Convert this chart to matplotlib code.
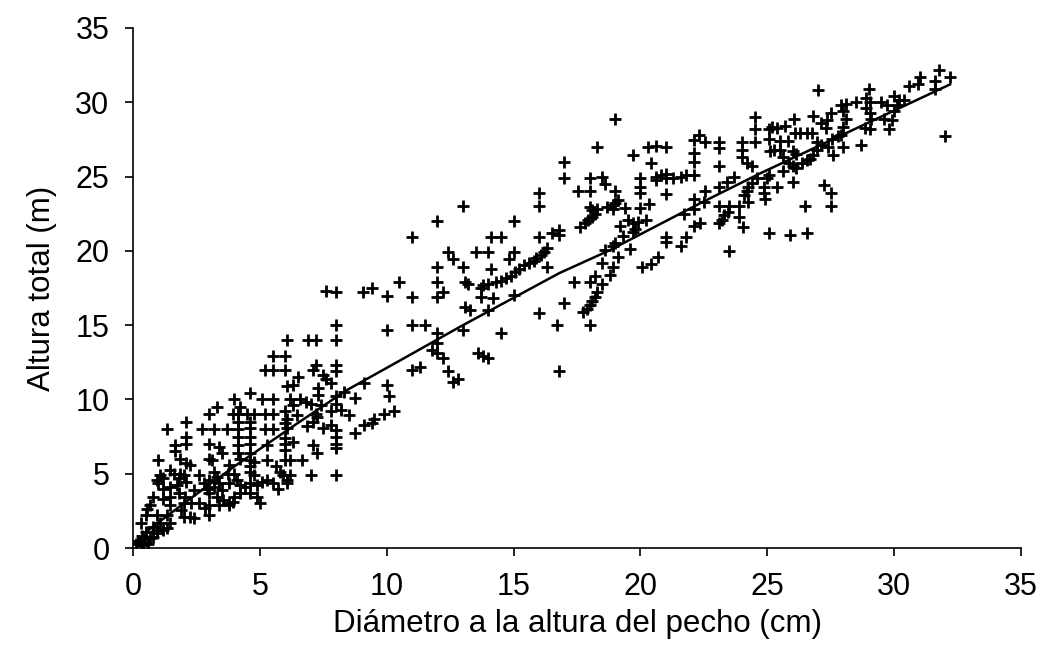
import matplotlib
matplotlib.use("Agg")
import matplotlib.pyplot as plt

plt.rcParams['font.family'] = ['Liberation Sans', 'DejaVu Sans']

# observaciones (dap en cm, altura en m), agrupadas por zona del gráfico
obs_origen = [
    (0.1, 0.3), (0.2, 0.5), (0.3, 0.4), (0.35, 0.8), (0.45, 0.6), (0.5, 1.1),
    (0.3, 1.7), (0.5, 2.2), (0.55, 2.6), (0.6, 0.3), (0.4, 0.2),
]

obs_0_9 = [
    (4.6, 10.4), (4.0, 10.0), (5.1, 10.0), (5.5, 10.0), (6.2, 10.0), (6.3, 9.6),
    (6.6, 10.0), (6.8, 9.85), (7.0, 9.7), (7.3, 10.3), (7.4, 9.6), (8.0, 10.2),
    (8.0, 9.7), (8.3, 10.5), (8.75, 10.1), (3.3, 9.5), (4.2, 9.5),
    (3.0, 9.0), (3.95, 9.0), (4.15, 9.0), (4.5, 9.0), (4.75, 9.0), (5.2, 9.0),
    (5.5, 9.0), (6.0, 9.2), (6.45, 8.95), (7.2, 9.05), (7.25, 8.85), (7.8, 9.2),
    (8.2, 9.3), (8.5, 8.95), (2.1, 8.45), (1.33, 8.0), (2.7, 8.0), (3.2, 8.0),
    (3.7, 8.0), (4.15, 8.0), (4.6, 8.05), (5.2, 8.0), (5.5, 8.0), (6.0, 8.4),
    (6.05, 8.05), (6.85, 8.2), (7.1, 8.5), (7.5, 8.05), (7.8, 8.3), (8.0, 7.95),
    (8.75, 7.75), (4.15, 8.5), (4.6, 8.5), (6.05, 8.7), (2.1, 7.5), (2.1, 7.0),
    (1.66, 6.9), (1.66, 6.5), (3.0, 7.0), (3.4, 6.8), (3.5, 6.4), (4.15, 7.5),
    (4.15, 6.9), (4.6, 7.5), (4.6, 7.0), (5.3, 6.9), (6.0, 7.4), (6.0, 7.0),
    (6.3, 7.15), (7.1, 6.9), (7.25, 6.4), (8.0, 7.5), (8.0, 7.0), (8.0, 6.7),
    (6.0, 6.6), (1.0, 5.9), (1.85, 6.0), (2.1, 5.7), (2.25, 5.6), (3.0, 6.0),
    (3.1, 5.9), (4.15, 6.4), (4.2, 6.0), (4.6, 6.4), (4.6, 5.9), (4.75, 5.8),
    (5.3, 5.9), (6.0, 5.9), (6.2, 5.9), (6.65, 5.9), (3.8, 5.6), (4.6, 5.5),
    (5.65, 5.5), (1.46, 5.25), (1.6, 5.0), (1.06, 4.9), (1.2, 4.7), (0.93, 4.6),
    (1.85, 5.0), (2.0, 4.9), (1.8, 4.7), (2.1, 4.45), (2.6, 4.9), (3.2, 5.1),
    (3.0, 4.6), (3.3, 4.8), (3.75, 5.0), (4.0, 5.0), (4.6, 5.1), (4.75, 4.9),
    (5.3, 4.6), (5.8, 5.1), (5.9, 4.9), (6.05, 4.6), (6.2, 4.9), (7.0, 4.9),
    (8.0, 4.9), (1.0, 4.35), (1.2, 4.0), (1.46, 4.1), (1.72, 4.25), (2.8, 4.35),
    (2.9, 4.0), (3.2, 4.1), (3.4, 4.35), (3.8, 4.35), (4.1, 4.6), (4.2, 4.25),
    (4.4, 4.1), (4.6, 4.35), (4.9, 4.25), (5.1, 4.45), (5.5, 4.35), (5.7, 4.0),
    (6.05, 4.35), (0.8, 3.46), (1.2, 3.3), (1.46, 3.46), (1.8, 3.7), (2.05, 3.46),
    (2.4, 3.9), (3.0, 3.7), (3.3, 3.46), (3.55, 3.2), (3.8, 3.0), (4.0, 3.46),
    (4.2, 3.7), (4.6, 3.7), (4.9, 3.46), (5.0, 3.0), (3.5, 3.9), (0.67, 2.9),
    (1.46, 2.9), (2.0, 3.0), (2.3, 3.0), (2.6, 3.0), (2.85, 2.7), (3.0, 2.9),
    (3.4, 2.9), (3.8, 2.9), (3.95, 3.1), (0.93, 2.2), (1.33, 2.2), (1.9, 2.55),
    (2.0, 2.1), (2.25, 2.1), (2.4, 2.0), (3.0, 2.2), (1.46, 1.66), (1.06, 1.66),
    (0.8, 1.44), (0.93, 1.2), (1.2, 1.2), (1.33, 1.33), (0.8, 0.76), (0.93, 1.0),
    (0.67, 0.65),
]

obs_5_10 = [
    (7.6, 17.3), (8.0, 17.2), (9.05, 17.2), (9.4, 17.5), (10.0, 16.95), (8.0, 15.0),
    (10.0, 14.7), (6.05, 14.0), (6.9, 14.0), (7.2, 14.0), (8.0, 14.0), (5.5, 12.9),
    (6.0, 12.9), (5.2, 12.0), (5.5, 12.0), (6.0, 12.0), (7.1, 12.0), (7.2, 12.3),
    (8.0, 12.3), (8.0, 11.9), (6.5, 11.5), (7.5, 11.65), (7.6, 11.4), (7.8, 11.1),
    (6.05, 10.9), (6.3, 11.0), (7.3, 10.75), (9.1, 11.1), (10.0, 11.0), (10.1, 10.2),
    (9.9, 9.05), (10.3, 9.2), (9.5, 8.7), (9.4, 8.4), (9.1, 8.3),
]

obs_10_17 = [
    (16.0, 23.9), (16.0, 23.0), (13.0, 23.0), (12.0, 22.0), (15.0, 22.0), (11.0, 20.95),
    (14.1, 20.95), (14.5, 20.95), (16.0, 20.95), (16.5, 21.2), (16.8, 21.4), (16.8, 21.1),
    (12.4, 19.9), (13.5, 19.9), (14.0, 19.9), (15.0, 19.9), (12.6, 19.45), (14.8, 19.45),
    (16.3, 20.2), (16.2, 19.9), (16.1, 19.7), (15.9, 19.5), (15.8, 19.3), (15.6, 19.2),
    (15.4, 19.05), (15.2, 18.8), (15.05, 18.6), (14.9, 18.3), (14.7, 18.15), (14.5, 18.0),
    (14.3, 17.9), (14.0, 17.8), (13.8, 17.7), (13.7, 17.5), (12.0, 18.9), (13.0, 18.9),
    (14.1, 18.8), (16.3, 18.9), (12.0, 17.9), (13.1, 17.9), (13.2, 17.8), (12.2, 17.25),
    (12.0, 16.9), (11.0, 16.9), (10.5, 17.9), (13.7, 16.9), (14.2, 16.8), (15.0, 17.0),
    (13.1, 16.2), (13.3, 16.0), (14.0, 16.0), (17.9, 16.1), (17.75, 15.9), (18.0, 16.35),
    (18.1, 16.6), (17.0, 16.5), (16.0, 15.8), (16.7, 15.0), (18.0, 15.0), (11.0, 15.0),
    (11.5, 15.0), (13.0, 14.7), (14.5, 14.45), (12.0, 14.45), (12.0, 13.8), (11.8, 13.3),
    (12.0, 13.1), (12.2, 12.8), (13.6, 13.1), (13.8, 12.9), (14.0, 12.8), (11.0, 12.0),
    (11.3, 12.2), (12.4, 11.9), (12.6, 11.2), (12.8, 11.4), (16.8, 11.9),
]

obs_17_22 = [
    (19.0, 28.9), (17.0, 26.0), (17.0, 24.9), (18.3, 26.96), (19.7, 26.45), (20.3, 27.0),
    (20.6, 27.05), (21.0, 26.96), (20.4, 25.9), (22.1, 27.45), (22.3, 27.8), (22.1, 26.6),
    (22.1, 26.0), (18.0, 24.9), (18.5, 25.0), (18.6, 24.5), (17.55, 24.0), (18.0, 24.0),
    (19.0, 24.0), (20.0, 24.9), (20.0, 24.3), (20.0, 23.9), (20.6, 25.0), (20.6, 24.8),
    (20.8, 25.1), (21.0, 25.2), (21.0, 24.9), (21.3, 24.9), (21.6, 25.0), (21.8, 25.1),
    (22.1, 25.1), (21.0, 23.8), (18.0, 22.97), (18.1, 22.75), (18.3, 22.85), (18.2, 22.5),
    (18.1, 22.3), (17.95, 22.1), (17.8, 21.85), (17.6, 21.6), (18.7, 22.97), (18.9, 23.1),
    (19.0, 23.2), (19.1, 23.4), (18.9, 22.85), (19.4, 22.9), (20.0, 22.9), (20.35, 23.15),
    (19.2, 21.7), (19.5, 22.1), (19.7, 21.85), (19.9, 21.95), (20.2, 22.1), (19.8, 21.5),
    (19.7, 21.3), (19.3, 21.0), (19.0, 20.5), (18.9, 20.3), (18.6, 20.05), (19.1, 19.6),
    (18.5, 19.15), (18.9, 18.9), (18.8, 18.4), (17.4, 17.9), (18.0, 17.9), (18.2, 18.3),
    (18.5, 17.8), (18.3, 17.25), (18.2, 16.9), (19.6, 20.1), (20.05, 18.9), (20.4, 19.1),
    (20.7, 19.6), (21.0, 20.95), (21.0, 20.6), (21.6, 20.3), (21.8, 20.95), (21.7, 22.5),
    (22.1, 23.5), (22.1, 22.85), (22.1, 21.7),
]

obs_22_28 = [
    (27.0, 30.8), (24.5, 29.0), (24.5, 28.2), (24.5, 27.35), (25.05, 28.2), (25.2, 28.35),
    (25.4, 28.3), (25.7, 28.4), (26.05, 28.9), (26.8, 29.1), (27.5, 29.3), (27.35, 28.8),
    (27.1, 28.6), (27.3, 28.25), (26.1, 27.95), (26.3, 27.9), (26.55, 27.95), (26.75, 27.9),
    (25.05, 27.5), (25.5, 27.4), (25.8, 27.4), (26.95, 27.35), (27.8, 27.7), (27.55, 27.5),
    (27.4, 26.97), (27.1, 27.1), (26.95, 26.8), (26.8, 26.45), (26.7, 26.2), (26.55, 26.1),
    (26.35, 25.9), (26.15, 26.55), (26.0, 26.7), (27.6, 26.45), (24.0, 27.35), (24.0, 26.8),
    (24.0, 26.3), (24.2, 25.9), (24.4, 25.7), (23.1, 27.35), (23.1, 26.9), (22.55, 27.35),
    (25.1, 26.7), (25.25, 26.8), (25.5, 26.8), (25.6, 26.3), (25.6, 25.4), (25.85, 25.9),
    (26.0, 25.7), (26.15, 25.55), (26.0, 24.65), (25.05, 25.1), (25.0, 24.9), (24.85, 24.3),
    (24.85, 23.9), (24.9, 23.5), (25.4, 24.3), (24.6, 24.9), (24.4, 24.55), (24.25, 24.3),
    (24.2, 24.0), (24.1, 23.75), (24.25, 23.3), (23.1, 25.7), (23.1, 24.3), (23.4, 24.65),
    (23.7, 25.0), (22.55, 24.0), (22.5, 23.3), (23.1, 23.0), (23.5, 23.0), (23.9, 23.0),
    (23.45, 22.6), (23.3, 22.4), (23.2, 22.1), (23.1, 21.85), (23.9, 22.3), (24.05, 21.6),
    (22.35, 21.85), (25.05, 21.2), (25.9, 21.07), (26.55, 21.2), (26.5, 23.0), (27.25, 24.4),
    (27.5, 23.9), (27.5, 23.0), (23.5, 20.0),
]

obs_28_33 = [
    (31.75, 32.2), (31.0, 31.7), (30.95, 31.25), (30.6, 31.1), (31.6, 31.4), (31.6, 30.9),
    (32.2, 31.7), (29.0, 30.9), (28.9, 30.26), (29.05, 30.0), (28.5, 30.0), (28.1, 29.9),
    (27.9, 29.8), (28.0, 29.4), (28.1, 28.9), (28.0, 28.35), (27.9, 27.8), (28.0, 27.0),
    (28.7, 27.1), (28.9, 29.6), (29.05, 29.25), (29.1, 28.9), (28.85, 28.3), (29.05, 28.2),
    (29.5, 30.0), (29.7, 29.8), (30.0, 30.4), (30.2, 30.15), (30.1, 29.8), (30.0, 29.4),
    (29.9, 28.8), (29.8, 28.2), (29.6, 28.9), (30.4, 30.15), (32.0, 27.7),
]

# curva ajustada
curva_dap = [0.1, 0.67, 2.0, 4.0, 6.4, 8.4, 10.5, 12.9, 16.8, 18.8, 22.35, 24.7, 29.45, 32.2]
curva_alt = [0.3, 1.3, 3.0, 5.5, 8.3, 10.6, 12.6, 14.9, 18.5, 20.05, 23.2, 25.2, 29.0, 31.2]

grupos = [obs_origen, obs_0_9, obs_5_10, obs_10_17, obs_17_22, obs_22_28, obs_28_33]
dap = [p[0] for g in grupos for p in g]
altura = [p[1] for g in grupos for p in g]

fig = plt.figure(figsize=(10.44, 6.49), dpi=100)
ax = fig.add_axes([0.1274, 0.1556, 0.978 - 0.1274, 0.9569 - 0.1556])

ax.plot(dap, altura, linestyle='none', marker='+', color='black',
        markersize=8, markeredgewidth=2.0)
ax.plot(curva_dap, curva_alt, color='black', linewidth=1.8)

ax.set_xlim(0, 35)
ax.set_ylim(0, 35)
ax.set_xticks(range(0, 36, 5))
ax.set_yticks(range(0, 36, 5))
ax.spines['top'].set_visible(False)
ax.spines['right'].set_visible(False)
for s in ('left', 'bottom'):
    ax.spines[s].set_linewidth(1.2)
ax.tick_params(direction='out', length=6, width=1.2, labelsize=22, pad=11)

ax.set_xlabel('Diámetro a la altura del pecho (cm)', fontsize=22.5, labelpad=5)
ax.set_ylabel('Altura total (m)', fontsize=22.5, labelpad=13)

fig.savefig('out.png', dpi=100)
